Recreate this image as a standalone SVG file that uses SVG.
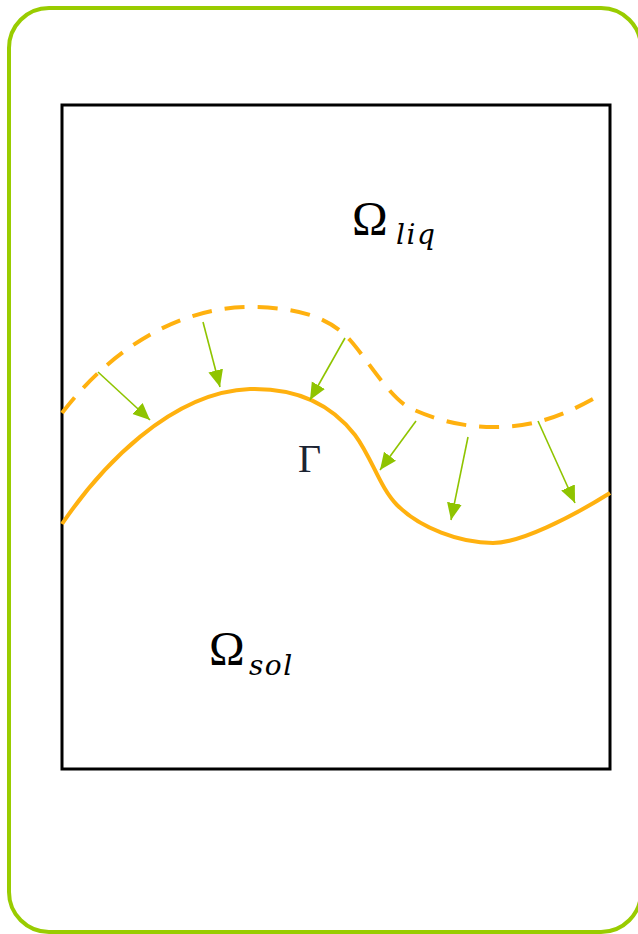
<svg xmlns="http://www.w3.org/2000/svg" width="638" height="934" viewBox="0 0 638 934">
<style>
.frame{fill:#fff;stroke:#99cc00;stroke-width:4}
.box{fill:none;stroke:#000;stroke-width:3}
.front{fill:none;stroke:#ffb10f;stroke-width:4;stroke-linecap:butt}
.dash{stroke-dasharray:20 13}
.arr{fill:none;stroke:#8fc400;stroke-width:1.6}
.om{font-family:"Liberation Serif","DejaVu Serif",serif;font-size:48px;fill:#000}
.sub{font-family:"DejaVu Serif",serif;font-style:italic;font-size:28px;letter-spacing:1.5px;fill:#000}
.gam{font-family:"Liberation Serif","DejaVu Serif",serif;font-size:40px;fill:#1c2433}
</style>
<defs>
<marker id="ah" markerUnits="userSpaceOnUse" markerWidth="18" markerHeight="16" refX="17" refY="7.5" orient="auto">
<path d="M0,0 L17,7.5 L0,15 z" fill="#8fc400"/>
</marker>
</defs>
<g id="frame"><rect class="frame" x="9" y="8" width="632" height="924" rx="40" ry="40"/></g>
<g id="domain"><rect class="box" x="62" y="105" width="548" height="664"/></g>
<g id="interface-old"><path class="front dash" d="M62,413 C110,350 180,305 255,307 C300,308 330,318 350,340 C367,359 390,398 410,408 C440,422 470,428 500,427 C540,426 570,412 600,395"/></g>
<g id="interface"><path class="front" d="M62,524 C100,468 170,392 250,389 C290,388 328,400 355,435 C372,458 380,488 397,505 C420,528 460,543 493,543 C520,543 570,518 610,493"/></g>
<g id="connectors">
<line class="arr" x1="98" y1="372" x2="150" y2="420" marker-end="url(#ah)"/>
<line class="arr" x1="203" y1="322" x2="220" y2="387" marker-end="url(#ah)"/>
<line class="arr" x1="345" y1="338" x2="310" y2="400" marker-end="url(#ah)"/>
<line class="arr" x1="416" y1="421" x2="380" y2="470" marker-end="url(#ah)"/>
<line class="arr" x1="468" y1="437" x2="451" y2="520" marker-end="url(#ah)"/>
<line class="arr" x1="538" y1="421" x2="575" y2="503" marker-end="url(#ah)"/>
</g>
<g id="label-liq"><text class="om" x="352" y="235">Ω</text><text class="sub" x="396" y="244">liq</text></g>
<g id="label-sol"><text class="om" x="209" y="665">Ω</text><text class="sub" x="249" y="675">sol</text></g>
<g id="label-gamma"><text class="gam" x="298" y="472">Γ</text></g>
</svg>
